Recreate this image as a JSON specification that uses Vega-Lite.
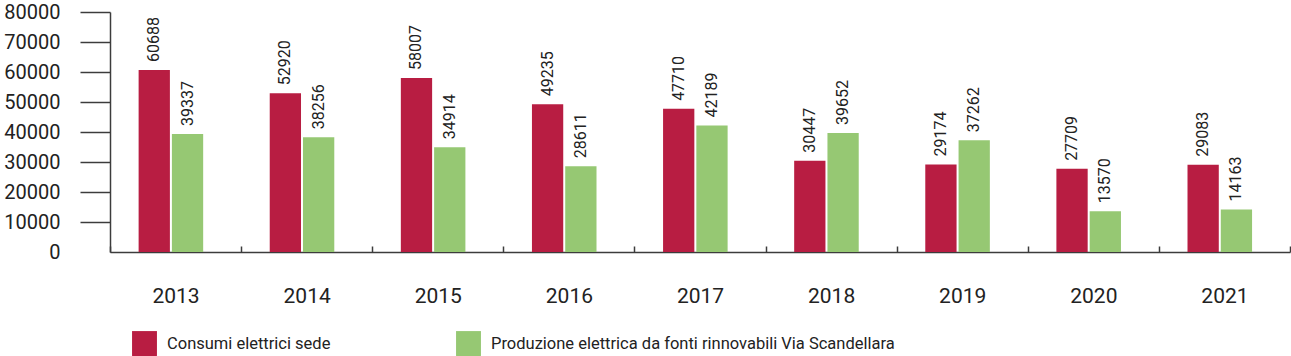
{
  "$schema": "https://vega.github.io/schema/vega-lite/v6.json",
  "width": 1180,
  "height": 240,
  "autosize": {"type": "none"},
  "padding": {"left": 110, "top": 12, "right": 1, "bottom": 104},
  "config": {"view": {"stroke": null}, "font": "Roboto"},
  "data": {
    "values": [
      {"anno": "2013", "serie": "Consumi elettrici sede", "valore": 60688},
      {"anno": "2013", "serie": "Produzione elettrica da fonti rinnovabili Via Scandellara", "valore": 39337},
      {"anno": "2014", "serie": "Consumi elettrici sede", "valore": 52920},
      {"anno": "2014", "serie": "Produzione elettrica da fonti rinnovabili Via Scandellara", "valore": 38256},
      {"anno": "2015", "serie": "Consumi elettrici sede", "valore": 58007},
      {"anno": "2015", "serie": "Produzione elettrica da fonti rinnovabili Via Scandellara", "valore": 34914},
      {"anno": "2016", "serie": "Consumi elettrici sede", "valore": 49235},
      {"anno": "2016", "serie": "Produzione elettrica da fonti rinnovabili Via Scandellara", "valore": 28611},
      {"anno": "2017", "serie": "Consumi elettrici sede", "valore": 47710},
      {"anno": "2017", "serie": "Produzione elettrica da fonti rinnovabili Via Scandellara", "valore": 42189},
      {"anno": "2018", "serie": "Consumi elettrici sede", "valore": 30447},
      {"anno": "2018", "serie": "Produzione elettrica da fonti rinnovabili Via Scandellara", "valore": 39652},
      {"anno": "2019", "serie": "Consumi elettrici sede", "valore": 29174},
      {"anno": "2019", "serie": "Produzione elettrica da fonti rinnovabili Via Scandellara", "valore": 37262},
      {"anno": "2020", "serie": "Consumi elettrici sede", "valore": 27709},
      {"anno": "2020", "serie": "Produzione elettrica da fonti rinnovabili Via Scandellara", "valore": 13570},
      {"anno": "2021", "serie": "Consumi elettrici sede", "valore": 29083},
      {"anno": "2021", "serie": "Produzione elettrica da fonti rinnovabili Via Scandellara", "valore": 14163}
    ]
  },
  "encoding": {
    "x": {
      "field": "anno",
      "type": "nominal",
      "scale": {"paddingInner": 0, "paddingOuter": 0},
      "axis": {
        "title": null,
        "labelAngle": 0,
        "labelFontSize": 21,
        "labelColor": "#222222",
        "labelPadding": 39,
        "labelBaseline": "top",
        "tickBand": "extent",
        "tickSize": -6,
        "tickColor": "#3c3c3c",
        "tickWidth": 1.5,
        "domainColor": "#3c3c3c",
        "domainWidth": 1.5
      }
    },
    "xOffset": {
      "field": "serie",
      "type": "nominal",
      "sort": ["Consumi elettrici sede", "Produzione elettrica da fonti rinnovabili Via Scandellara"],
      "scale": {"paddingInner": 0.06, "paddingOuter": 1.015, "align": 0.43}
    },
    "y": {
      "field": "valore",
      "type": "quantitative",
      "scale": {"domain": [0, 80000], "nice": false},
      "axis": {
        "title": null,
        "values": [0, 10000, 20000, 30000, 40000, 50000, 60000, 70000, 80000],
        "format": "d",
        "grid": false,
        "labelFontSize": 20,
        "labelColor": "#222222",
        "labelPadding": 20,
        "labelFlush": false,
        "labelDx": {"expr": "datum.value == 0 ? 28 : 0"},
        "tickSize": 30,
        "tickOpacity": {"expr": "datum.value == 0 ? 0 : 1"},
        "tickColor": "#3c3c3c",
        "tickWidth": 1.5,
        "domainColor": "#3c3c3c",
        "domainWidth": 1.5
      }
    }
  },
  "layer": [
    {
      "mark": {"type": "bar"},
      "encoding": {
        "color": {
          "field": "serie",
          "type": "nominal",
          "scale": {
            "domain": ["Consumi elettrici sede", "Produzione elettrica da fonti rinnovabili Via Scandellara"],
            "range": ["#B81D42", "#96C873"]
          },
          "legend": {
            "orient": "none",
            "legendX": 22,
            "legendY": 319,
            "direction": "horizontal",
            "title": null,
            "symbolType": "square",
            "symbolSize": 620,
            "symbolStrokeWidth": 0,
            "symbolOpacity": 1,
            "labelFontSize": 16.5,
            "labelColor": "#222222",
            "labelOffset": 10,
            "labelLimit": 0,
            "columnPadding": 125
          }
        }
      }
    },
    {
      "mark": {"type": "text", "angle": 270, "align": "left", "baseline": "middle", "dx": 8, "fontSize": 16, "color": "#222222"},
      "encoding": {
        "text": {"field": "valore", "type": "quantitative", "format": "d"}
      }
    }
  ]
}
